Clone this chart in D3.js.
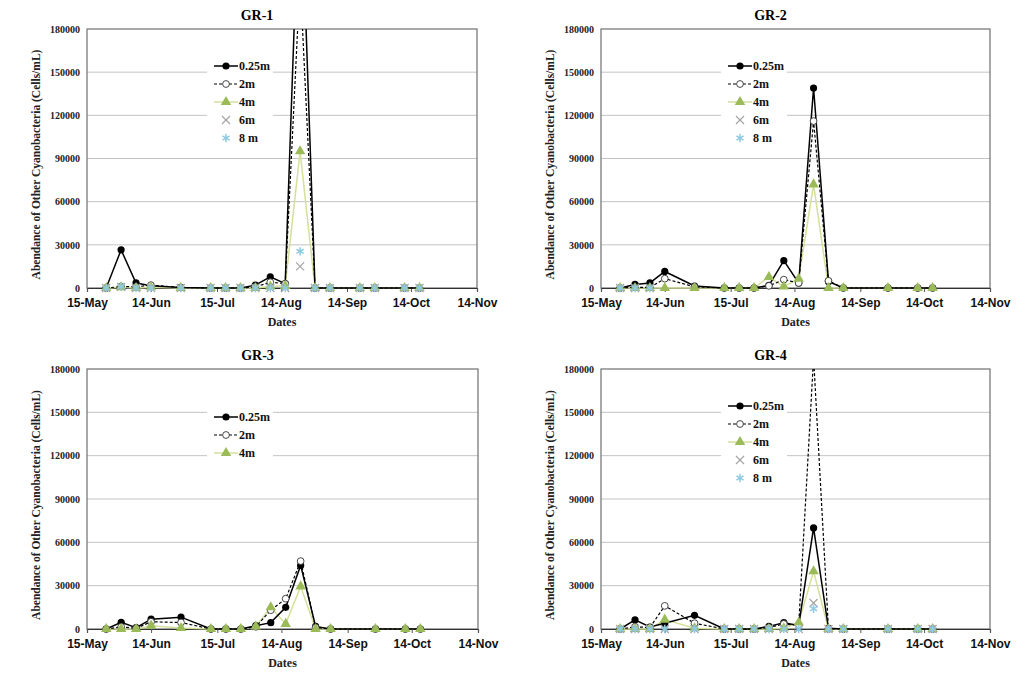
<!DOCTYPE html>
<html><head><meta charset="utf-8">
<script src="https://cdn.jsdelivr.net/npm/d3@7"></script>
<style>body{margin:0;background:#fff}svg{display:block}</style>
</head><body>
<svg id="c" width="1032" height="695"></svg>
<script>
// ---------- data ----------
const panelNames = ["GR-1", "GR-2", "GR-3", "GR-4"];
const seriesNames = ["0.25m", "2m", "4m", "6m", "8 m"];
const xTickDates = ["2013-05-15","2013-06-14","2013-07-15","2013-08-14","2013-09-14","2013-10-14","2013-11-14"];
const xTickLabels = ["15-May","14-Jun","15-Jul","14-Aug","14-Sep","14-Oct","14-Nov"];
const yTicks = [0, 30000, 60000, 90000, 120000, 150000, 180000];

const datesA = ["2013-05-24","2013-05-31","2013-06-07","2013-06-14","2013-06-28","2013-07-12","2013-07-19","2013-07-26","2013-08-02","2013-08-09","2013-08-16","2013-08-23","2013-08-30","2013-09-06","2013-09-20","2013-09-27","2013-10-11","2013-10-18"];
const datesB = ["2013-05-24","2013-05-31","2013-06-07","2013-06-14","2013-06-28","2013-07-12","2013-07-19","2013-07-26","2013-08-02","2013-08-09","2013-08-16","2013-08-23","2013-08-30","2013-09-06","2013-09-27","2013-10-11","2013-10-18"];
const datesC = ["2013-05-24","2013-05-31","2013-06-07"];

// GR-1
const gr1_025 = [0, 26500, 3500, 1500, 300, 0, 0, 0, 2000, 7800, 3000, 300000, 0, 0, 0, 0, 0, 0];
const gr1_2   = [0, 1000, 800, 2000, 400, 0, 0, 0, 800, 4000, 3000, 215000, 0, 0, 0, 0, 0, 0];
const gr1_4   = [0, 500, 0, 500, 0, 0, 0, 0, 0, 1000, 1500, 95000, 0, 0, 0, 0, 0, 0];
const gr1_6   = [0, 800, 0, 0, 0, 0, 0, 0, 0, 0, 0, 15000, 0, 0, 0, 0, 0, 0];
const gr1_8   = [0, 1000, 0, 0, 0, 0, 0, 0, 0, 0, 0, 25500, 0, 0, 0, 0, 0, 0];
// GR-2
const gr2_025 = [0, 2500, 3500, 11500, 1400, 0, 0, 0, 1800, 19000, 3500, 139000, 4600, 0, 0, 0, 0];
const gr2_2   = [0, 500, 500, 6500, 800, 0, 0, 0, 1500, 5800, 3500, 116000, 5000, 0, 0, 0, 0];
const gr2_4   = [0, 0, 0, 0, 0, 0, 0, 0, 7600, 1000, 6500, 72000, 0, 0, 0, 0, 0];
const gr2_6   = [0, 0, 0];
const gr2_8   = [0, 0, 0];
// GR-3
const gr3_025 = [0, 4600, 900, 6800, 8200, 0, 0, 0, 2300, 4400, 15000, 44000, 1800, 0, 0, 0, 0];
const gr3_2   = [0, 1500, 500, 5000, 4500, 0, 0, 0, 1500, 13000, 21000, 47000, 1000, 0, 0, 0, 0];
const gr3_4   = [0, 0, 0, 2300, 700, 0, 0, 0, 1800, 15000, 3500, 29500, 0, 0, 0, 0, 0];
// GR-4
const gr4_025 = [0, 6300, 1400, 4000, 9500, 0, 0, 0, 1800, 4400, 2500, 70000, 500, 0, 0, 0, 0];
const gr4_2   = [0, 1500, 1000, 16000, 4000, 0, 0, 0, 1000, 3500, 2500, 188000, 0, 0, 0, 0, 0];
const gr4_4   = [0, 0, 0, 6500, 500, 0, 0, 0, 0, 500, 4500, 40000, 0, 0, 0, 0, 0];
const gr4_6   = [0, 0, 0, 0, 0, 0, 0, 0, 0, 0, 0, 18000, 0, 0, 0, 0, 0];
const gr4_8   = [0, 0, 0, 0, 0, 0, 0, 0, 0, 0, 0, 14000, 0, 0, 0, 0, 0];

const panelSeries = [
  [[datesA, gr1_025], [datesA, gr1_2], [datesA, gr1_4], [datesA, gr1_6], [datesA, gr1_8]],
  [[datesB, gr2_025], [datesB, gr2_2], [datesB, gr2_4], [datesC, gr2_6], [datesC, gr2_8]],
  [[datesB, gr3_025], [datesB, gr3_2], [datesB, gr3_4]],
  [[datesB, gr4_025], [datesB, gr4_2], [datesB, gr4_4], [datesB, gr4_6], [datesB, gr4_8]]
];

// ---------- layout & style ----------
const parse = d3.timeParse("%Y-%m-%d");
const layout = [
  {l: 87,  r: 477, t: 29,  b: 288},
  {l: 601, r: 990, t: 29,  b: 288},
  {l: 87,  r: 478, t: 369, b: 629},
  {l: 601, r: 990, t: 369, b: 629}
];
const styles = [
  {line: "#000", width: 1.5, dash: null, marker: "dot"},
  {line: "#000", width: 1.2, dash: "3,2", marker: "open"},
  {line: "#d4e09b", width: 1.5, dash: null, marker: "tri"},
  {line: null, marker: "x"},
  {line: null, marker: "ast"}
];
const serif = "'Liberation Serif','Times New Roman',serif";
const sans = "'Liberation Sans',Arial,sans-serif";

const svg = d3.select("#c");
const defs = svg.append("defs");

function drawMarker(g, type, x, y) {
  if (type === "dot") {
    g.append("circle").attr("cx", x).attr("cy", y).attr("r", 3.6).attr("fill", "#000");
  } else if (type === "open") {
    g.append("circle").attr("cx", x).attr("cy", y).attr("r", 3.4).attr("fill", "#fff").attr("stroke", "#333").attr("stroke-width", 0.9);
  } else if (type === "tri") {
    g.append("path").attr("d", d3.symbol(d3.symbolTriangle, 48)()).attr("transform", `translate(${x},${y})`).attr("fill", "#9bbb59");
  } else if (type === "x") {
    g.append("path").attr("d", d3.symbol(d3.symbolX, 44)()).attr("transform", `translate(${x},${y})`).attr("fill", "none").attr("stroke", "#a5a5a5").attr("stroke-width", 1.2);
  } else if (type === "ast") {
    g.append("path").attr("d", d3.symbol(d3.symbolAsterisk, 48)()).attr("transform", `translate(${x},${y})`).attr("fill", "none").attr("stroke", "#8fcbe0").attr("stroke-width", 1.5);
  }
}

panelNames.forEach((name, pi) => {
  const L = layout[pi];
  const x = d3.scaleTime().domain([parse(xTickDates[0]), parse(xTickDates[xTickDates.length - 1])]).range([L.l, L.r]);
  const y = d3.scaleLinear().domain([0, 180000]).range([L.b, L.t]);
  const g = svg.append("g");

  // gridlines
  g.append("g").selectAll("line").data(yTicks.slice(1, -1)).join("line")
    .attr("x1", L.l).attr("x2", L.r).attr("y1", d => y(d)).attr("y2", d => y(d))
    .attr("stroke", "#c3c3c3").attr("stroke-width", 1);

  // legend background box (hides gridlines)
  const nS = panelSeries[pi].length;
  const rowStart = nS === 5 ? 37 : 48;
  g.append("rect").attr("x", L.l + 120).attr("y", L.t + rowStart - 10)
    .attr("width", 66).attr("height", (nS - 1) * 18 + 20).attr("fill", "#fff");

  // frame
  g.append("rect").attr("x", L.l).attr("y", L.t).attr("width", L.r - L.l).attr("height", L.b - L.t)
    .attr("fill", "none").attr("stroke", "#6f6f6f").attr("stroke-width", 1.2);

  // y axis
  const ya = d3.axisLeft(y).tickValues(yTicks).tickSize(0).tickPadding(7).tickFormat(d3.format("d"));
  const yg = g.append("g").attr("transform", `translate(${L.l},0)`).call(ya);
  yg.select(".domain").remove();
  yg.selectAll("text").attr("font-family", serif).attr("font-weight", "bold").attr("font-size", 10).attr("fill", "#222");

  // x axis
  const xa = d3.axisBottom(x).tickValues(xTickDates.map(parse)).tickSize(4)
    .tickFormat((d, i) => xTickLabels[i]).tickPadding(6);
  const xg = g.append("g").attr("transform", `translate(0,${L.b})`).call(xa);
  xg.select(".domain").attr("stroke", "#333").attr("stroke-width", 1.2);
  xg.selectAll(".tick line").attr("stroke", "#555");
  xg.selectAll("text").attr("font-family", sans).attr("font-weight", "bold").attr("font-size", 12).attr("fill", "#111");

  // titles
  g.append("text").attr("x", (L.l + L.r) / 2 - 25).attr("y", L.t - 9).attr("text-anchor", "middle")
    .attr("font-family", serif).attr("font-weight", "bold").attr("font-size", 14).text(name);
  g.append("text").attr("x", (L.l + L.r) / 2).attr("y", L.b + 38).attr("text-anchor", "middle")
    .attr("font-family", serif).attr("font-weight", "bold").attr("font-size", 12).attr("fill", "#222").text("Dates");
  g.append("text").attr("transform", `translate(${L.l - 47},${(L.t + L.b) / 2 + 6}) rotate(-90)`).attr("text-anchor", "middle")
    .attr("font-family", serif).attr("font-weight", "bold").attr("font-size", 11.5).attr("fill", "#222")
    .text("Abendance of Other Cyanobacteria (Cells/mL)");

  // clip
  const cid = "clip" + pi;
  defs.append("clipPath").attr("id", cid).append("rect")
    .attr("x", L.l).attr("y", L.t).attr("width", L.r - L.l).attr("height", L.b - L.t + 6);
  const plot = g.append("g").attr("clip-path", `url(#${cid})`);

  const lineGen = d3.line().x(d => x(d[0])).y(d => y(d[1]));
  panelSeries[pi].forEach((s, si) => {
    const st = styles[si];
    if (!st.line) return;
    const pts = s[0].map((dt, k) => [parse(dt), s[1][k]]);
    const p = plot.append("path").datum(pts).attr("d", lineGen)
      .attr("fill", "none").attr("stroke", st.line).attr("stroke-width", st.width);
    if (st.dash) p.attr("stroke-dasharray", st.dash);
  });
  plot.selectAll("path").filter((d, i) => i === 2).lower();

  // markers
  const mg = g.append("g").attr("clip-path", `url(#${cid})`);
  panelSeries[pi].forEach((s, si) => {
    s[0].forEach((dt, k) => {
      const v = s[1][k];
      if (v > 180000) return;
      drawMarker(mg, styles[si].marker, x(parse(dt)), y(v));
    });
  });

  // legend
  const lg = g.append("g");
  panelSeries[pi].forEach((s, si) => {
    const st = styles[si];
    const ry = L.t + rowStart + si * 18;
    if (st.line) {
      const ln = lg.append("line").attr("x1", L.l + 127).attr("x2", L.l + 151).attr("y1", ry).attr("y2", ry)
        .attr("stroke", st.line).attr("stroke-width", st.width);
      if (st.dash) ln.attr("stroke-dasharray", st.dash);
    }
    drawMarker(lg, st.marker, L.l + 139, ry);
    lg.append("text").attr("x", L.l + 152).attr("y", ry + 4).attr("font-family", serif).attr("font-weight", "bold")
      .attr("font-size", 12).attr("fill", "#111").text(seriesNames[si]);
  });
});
</script>
</body></html>
